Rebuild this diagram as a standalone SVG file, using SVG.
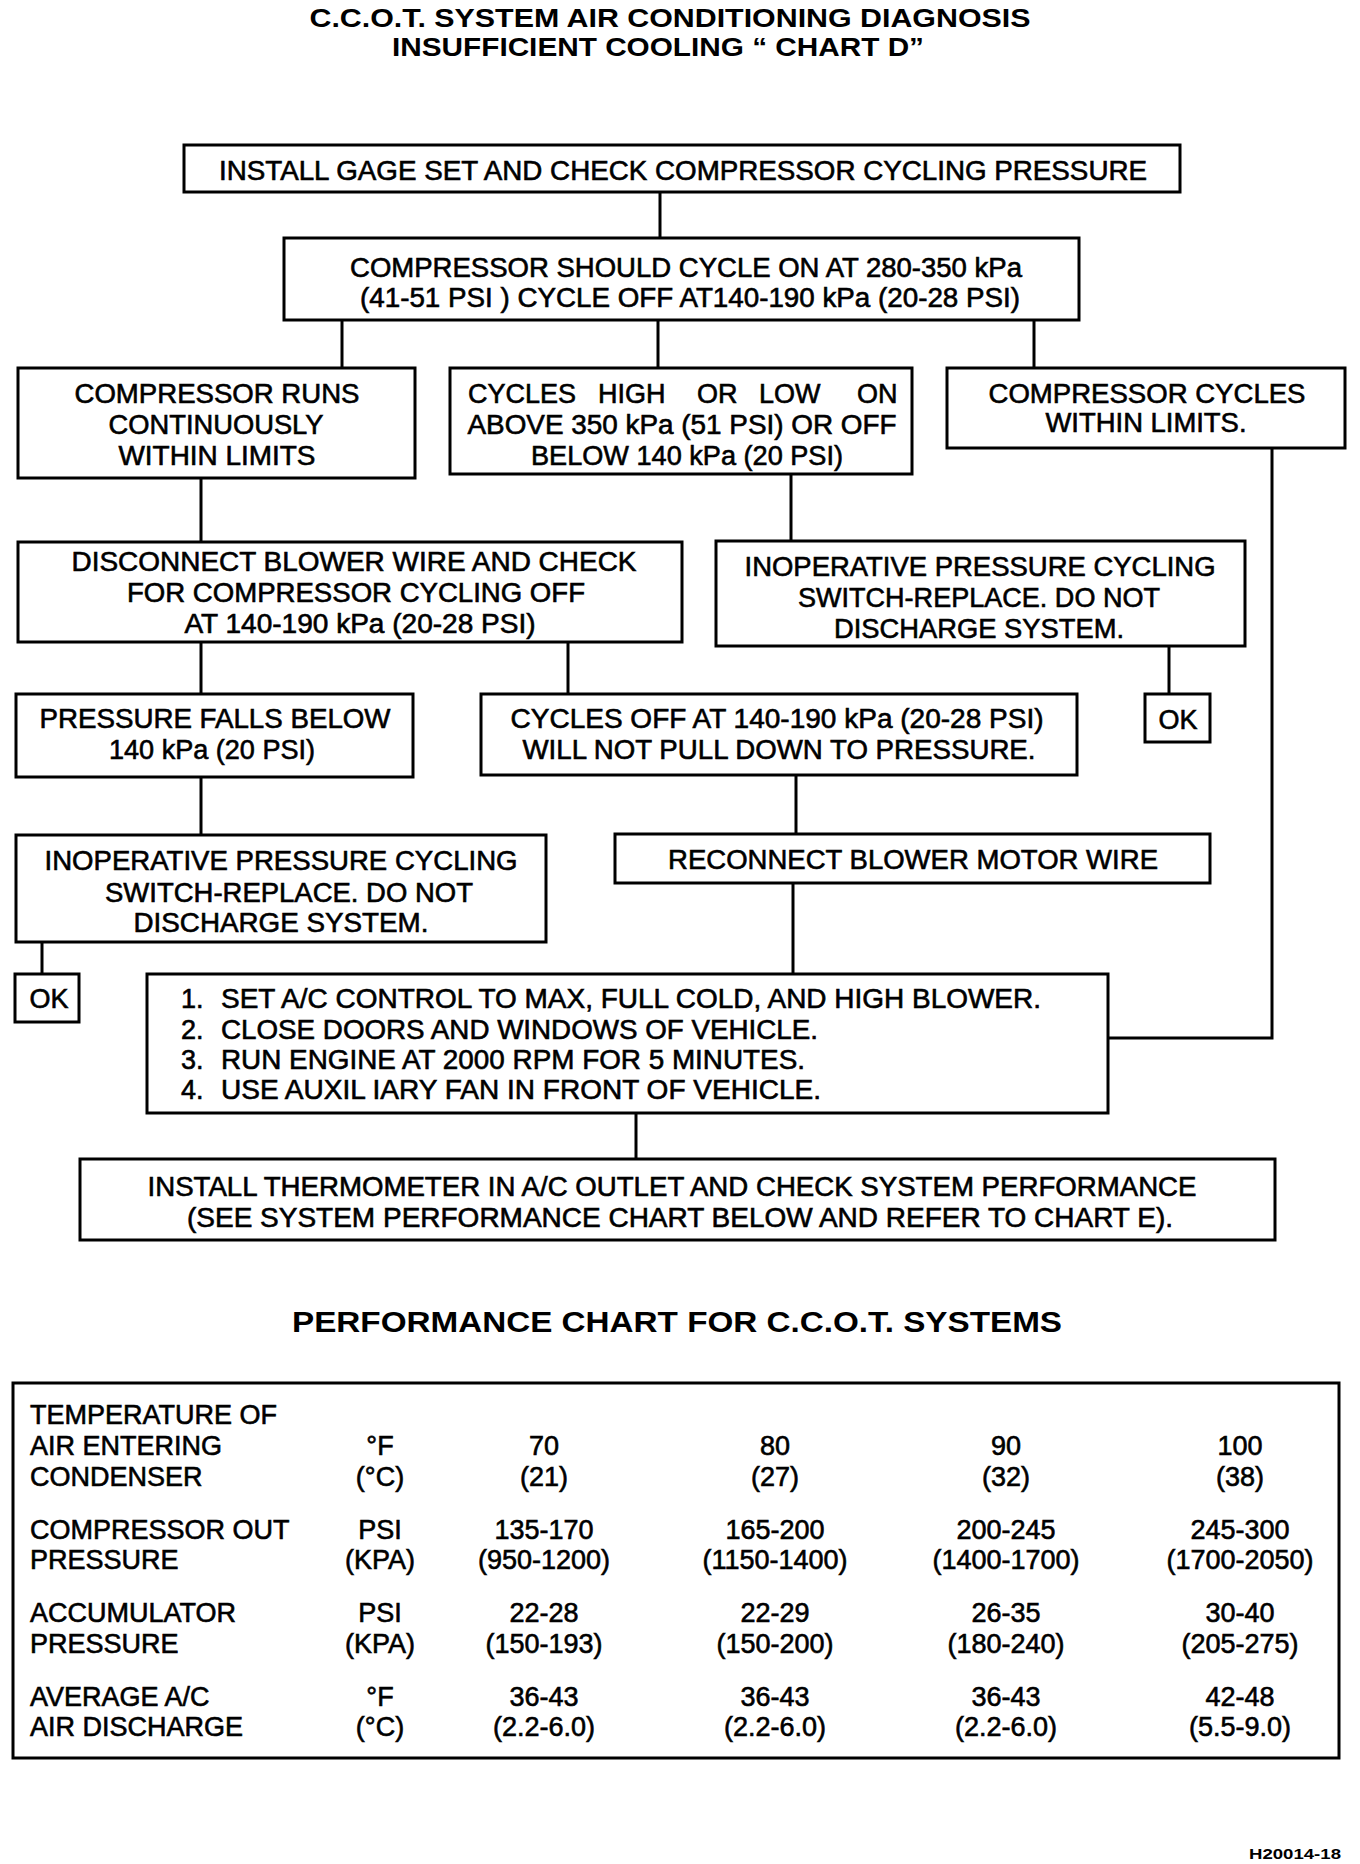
<svg xmlns="http://www.w3.org/2000/svg" width="1360" height="1864" viewBox="0 0 1360 1864">
<style>
.bg{fill:#fff}
.box{fill:#fff;stroke:#000;stroke-width:3}
.con{fill:none;stroke:#000;stroke-width:3}
.t{font-family:"Liberation Sans",Arial,Helvetica,sans-serif;font-size:27px;fill:#000;stroke:#000;stroke-width:0.6}
.m{text-anchor:middle}
.h{font-family:"Liberation Sans",Arial,Helvetica,sans-serif;font-weight:bold;fill:#000;text-anchor:middle}
</style>
<rect class="bg" x="0" y="0" width="1360" height="1864"/>
<g id="title">
<text class="h" x="670" y="27" font-size="25" textLength="721" lengthAdjust="spacingAndGlyphs">C.C.O.T. SYSTEM AIR CONDITIONING DIAGNOSIS</text>
<text class="h" x="658" y="56" font-size="25" textLength="532" lengthAdjust="spacingAndGlyphs">INSUFFICIENT COOLING “ CHART D”</text>
</g>
<g id="connectors">
<path class="con" d="M660 192V238"/>
<path class="con" d="M342 320V368"/>
<path class="con" d="M658 320V368"/>
<path class="con" d="M1034 320V368"/>
<path class="con" d="M201 478V542"/>
<path class="con" d="M791 474V541"/>
<path class="con" d="M201 642V694"/>
<path class="con" d="M568 642V694"/>
<path class="con" d="M1169 646V694"/>
<path class="con" d="M201 777V835"/>
<path class="con" d="M796 775V834"/>
<path class="con" d="M42 942V974"/>
<path class="con" d="M793 883V974"/>
<path class="con" d="M1272 448V1038H1108"/>
<path class="con" d="M636 1113V1159"/>
</g>
<g id="n1">
<rect class="box" x="184" y="145" width="996" height="47"/>
<text class="t m" x="683" y="180" textLength="928" lengthAdjust="spacingAndGlyphs">INSTALL GAGE SET AND CHECK COMPRESSOR CYCLING PRESSURE</text>
</g>
<g id="n2">
<rect class="box" x="284" y="238" width="795" height="82"/>
<text class="t m" x="686" y="277" textLength="672" lengthAdjust="spacingAndGlyphs">COMPRESSOR SHOULD CYCLE ON AT 280-350 kPa</text>
<text class="t m" x="690" y="307" textLength="660" lengthAdjust="spacingAndGlyphs">(41-51 PSI ) CYCLE OFF AT140-190 kPa (20-28 PSI)</text>
</g>
<g id="n3">
<rect class="box" x="18" y="368" width="397" height="110"/>
<text class="t m" x="217" y="403" textLength="285" lengthAdjust="spacingAndGlyphs">COMPRESSOR RUNS</text>
<text class="t m" x="216" y="434" textLength="215" lengthAdjust="spacingAndGlyphs">CONTINUOUSLY</text>
<text class="t m" x="217" y="465" textLength="197" lengthAdjust="spacingAndGlyphs">WITHIN LIMITS</text>
</g>
<g id="n4">
<rect class="box" x="450" y="368" width="462" height="106"/>
<text class="t" y="403"><tspan x="468">CYCLES</tspan><tspan x="598">HIGH</tspan><tspan x="697">OR</tspan><tspan x="759">LOW</tspan><tspan x="857">ON</tspan></text>
<text class="t m" x="682" y="434" textLength="429" lengthAdjust="spacingAndGlyphs">ABOVE 350 kPa (51 PSI) OR OFF</text>
<text class="t m" x="687" y="465" textLength="312" lengthAdjust="spacingAndGlyphs">BELOW 140 kPa (20 PSI)</text>
</g>
<g id="n5">
<rect class="box" x="947" y="368" width="398" height="80"/>
<text class="t m" x="1147" y="403" textLength="317" lengthAdjust="spacingAndGlyphs">COMPRESSOR CYCLES</text>
<text class="t m" x="1146" y="432" textLength="201" lengthAdjust="spacingAndGlyphs">WITHIN LIMITS.</text>
</g>
<g id="n6">
<rect class="box" x="18" y="542" width="664" height="100"/>
<text class="t m" x="354" y="571" textLength="565" lengthAdjust="spacingAndGlyphs">DISCONNECT BLOWER WIRE AND CHECK</text>
<text class="t m" x="356" y="602" textLength="458" lengthAdjust="spacingAndGlyphs">FOR COMPRESSOR CYCLING OFF</text>
<text class="t m" x="360" y="633" textLength="351" lengthAdjust="spacingAndGlyphs">AT 140-190 kPa (20-28 PSI)</text>
</g>
<g id="n7">
<rect class="box" x="716" y="541" width="529" height="105"/>
<text class="t m" x="980" y="576" textLength="471" lengthAdjust="spacingAndGlyphs">INOPERATIVE PRESSURE CYCLING</text>
<text class="t m" x="979" y="607" textLength="362" lengthAdjust="spacingAndGlyphs">SWITCH-REPLACE. DO NOT</text>
<text class="t m" x="979" y="638" textLength="290" lengthAdjust="spacingAndGlyphs">DISCHARGE SYSTEM.</text>
</g>
<g id="n8">
<rect class="box" x="16" y="694" width="397" height="83"/>
<text class="t m" x="215" y="728" textLength="351" lengthAdjust="spacingAndGlyphs">PRESSURE FALLS BELOW</text>
<text class="t m" x="212" y="759" textLength="206" lengthAdjust="spacingAndGlyphs">140 kPa (20 PSI)</text>
</g>
<g id="n9">
<rect class="box" x="481" y="694" width="596" height="81"/>
<text class="t m" x="777" y="728" textLength="533" lengthAdjust="spacingAndGlyphs">CYCLES OFF AT 140-190 kPa (20-28 PSI)</text>
<text class="t m" x="779" y="759" textLength="513" lengthAdjust="spacingAndGlyphs">WILL NOT PULL DOWN TO PRESSURE.</text>
</g>
<g id="n10">
<rect class="box" x="1145" y="694" width="65" height="48"/>
<text class="t m" x="1178" y="729">OK</text>
</g>
<g id="n11">
<rect class="box" x="16" y="835" width="530" height="107"/>
<text class="t m" x="281" y="870" textLength="473" lengthAdjust="spacingAndGlyphs">INOPERATIVE PRESSURE CYCLING</text>
<text class="t m" x="289" y="902" textLength="368" lengthAdjust="spacingAndGlyphs">SWITCH-REPLACE. DO NOT</text>
<text class="t m" x="281" y="932" textLength="295" lengthAdjust="spacingAndGlyphs">DISCHARGE SYSTEM.</text>
</g>
<g id="n12">
<rect class="box" x="615" y="834" width="595" height="49"/>
<text class="t m" x="913" y="869" textLength="490" lengthAdjust="spacingAndGlyphs">RECONNECT BLOWER MOTOR WIRE</text>
</g>
<g id="n13">
<rect class="box" x="15" y="974" width="64" height="48"/>
<text class="t m" x="49" y="1008">OK</text>
</g>
<g id="n14">
<rect class="box" x="147" y="974" width="961" height="139"/>
<text class="t" x="181" y="1008">1.</text>
<text class="t" x="221" y="1008" textLength="820" lengthAdjust="spacingAndGlyphs">SET A/C CONTROL TO MAX, FULL COLD, AND HIGH BLOWER.</text>
<text class="t" x="181" y="1039">2.</text>
<text class="t" x="221" y="1039" textLength="597" lengthAdjust="spacingAndGlyphs">CLOSE DOORS AND WINDOWS OF VEHICLE.</text>
<text class="t" x="181" y="1069">3.</text>
<text class="t" x="221" y="1069" textLength="584" lengthAdjust="spacingAndGlyphs">RUN ENGINE AT 2000 RPM FOR 5 MINUTES.</text>
<text class="t" x="181" y="1099">4.</text>
<text class="t" x="221" y="1099" textLength="600" lengthAdjust="spacingAndGlyphs">USE AUXIL IARY FAN IN FRONT OF VEHICLE.</text>
</g>
<g id="n15">
<rect class="box" x="80" y="1159" width="1195" height="81"/>
<text class="t m" x="672" y="1196" textLength="1049" lengthAdjust="spacingAndGlyphs">INSTALL THERMOMETER IN A/C OUTLET AND CHECK SYSTEM PERFORMANCE</text>
<text class="t m" x="680" y="1227" textLength="986" lengthAdjust="spacingAndGlyphs">(SEE SYSTEM PERFORMANCE CHART BELOW AND REFER TO CHART E).</text>
</g>
<g id="chart-title">
<text class="h" x="677" y="1332" font-size="29" textLength="770" lengthAdjust="spacingAndGlyphs">PERFORMANCE CHART FOR C.C.O.T. SYSTEMS</text>
</g>
<g id="table">
<rect class="box" x="13" y="1383" width="1326" height="375"/>
<text class="t" x="30" y="1424">TEMPERATURE OF</text>
<text class="t" x="30" y="1455">AIR ENTERING</text>
<text class="t" x="30" y="1486">CONDENSER</text>
<text class="t" x="30" y="1539">COMPRESSOR OUT</text>
<text class="t" x="30" y="1569">PRESSURE</text>
<text class="t" x="30" y="1622">ACCUMULATOR</text>
<text class="t" x="30" y="1653">PRESSURE</text>
<text class="t" x="30" y="1706">AVERAGE A/C</text>
<text class="t" x="30" y="1736">AIR DISCHARGE</text>
<g class="t m">
<text x="380" y="1455">°F</text><text x="380" y="1486">(°C)</text>
<text x="380" y="1539">PSI</text><text x="380" y="1569">(KPA)</text>
<text x="380" y="1622">PSI</text><text x="380" y="1653">(KPA)</text>
<text x="380" y="1706">°F</text><text x="380" y="1736">(°C)</text>
<text x="544" y="1455">70</text><text x="544" y="1486">(21)</text>
<text x="544" y="1539">135-170</text><text x="544" y="1569">(950-1200)</text>
<text x="544" y="1622">22-28</text><text x="544" y="1653">(150-193)</text>
<text x="544" y="1706">36-43</text><text x="544" y="1736">(2.2-6.0)</text>
<text x="775" y="1455">80</text><text x="775" y="1486">(27)</text>
<text x="775" y="1539">165-200</text><text x="775" y="1569">(1150-1400)</text>
<text x="775" y="1622">22-29</text><text x="775" y="1653">(150-200)</text>
<text x="775" y="1706">36-43</text><text x="775" y="1736">(2.2-6.0)</text>
<text x="1006" y="1455">90</text><text x="1006" y="1486">(32)</text>
<text x="1006" y="1539">200-245</text><text x="1006" y="1569">(1400-1700)</text>
<text x="1006" y="1622">26-35</text><text x="1006" y="1653">(180-240)</text>
<text x="1006" y="1706">36-43</text><text x="1006" y="1736">(2.2-6.0)</text>
<text x="1240" y="1455">100</text><text x="1240" y="1486">(38)</text>
<text x="1240" y="1539">245-300</text><text x="1240" y="1569">(1700-2050)</text>
<text x="1240" y="1622">30-40</text><text x="1240" y="1653">(205-275)</text>
<text x="1240" y="1706">42-48</text><text x="1240" y="1736">(5.5-9.0)</text>
</g>
</g>
<g id="footer">
<text class="h" x="1295" y="1859" font-size="14" textLength="92" lengthAdjust="spacingAndGlyphs">H20014-18</text>
</g>
</svg>
